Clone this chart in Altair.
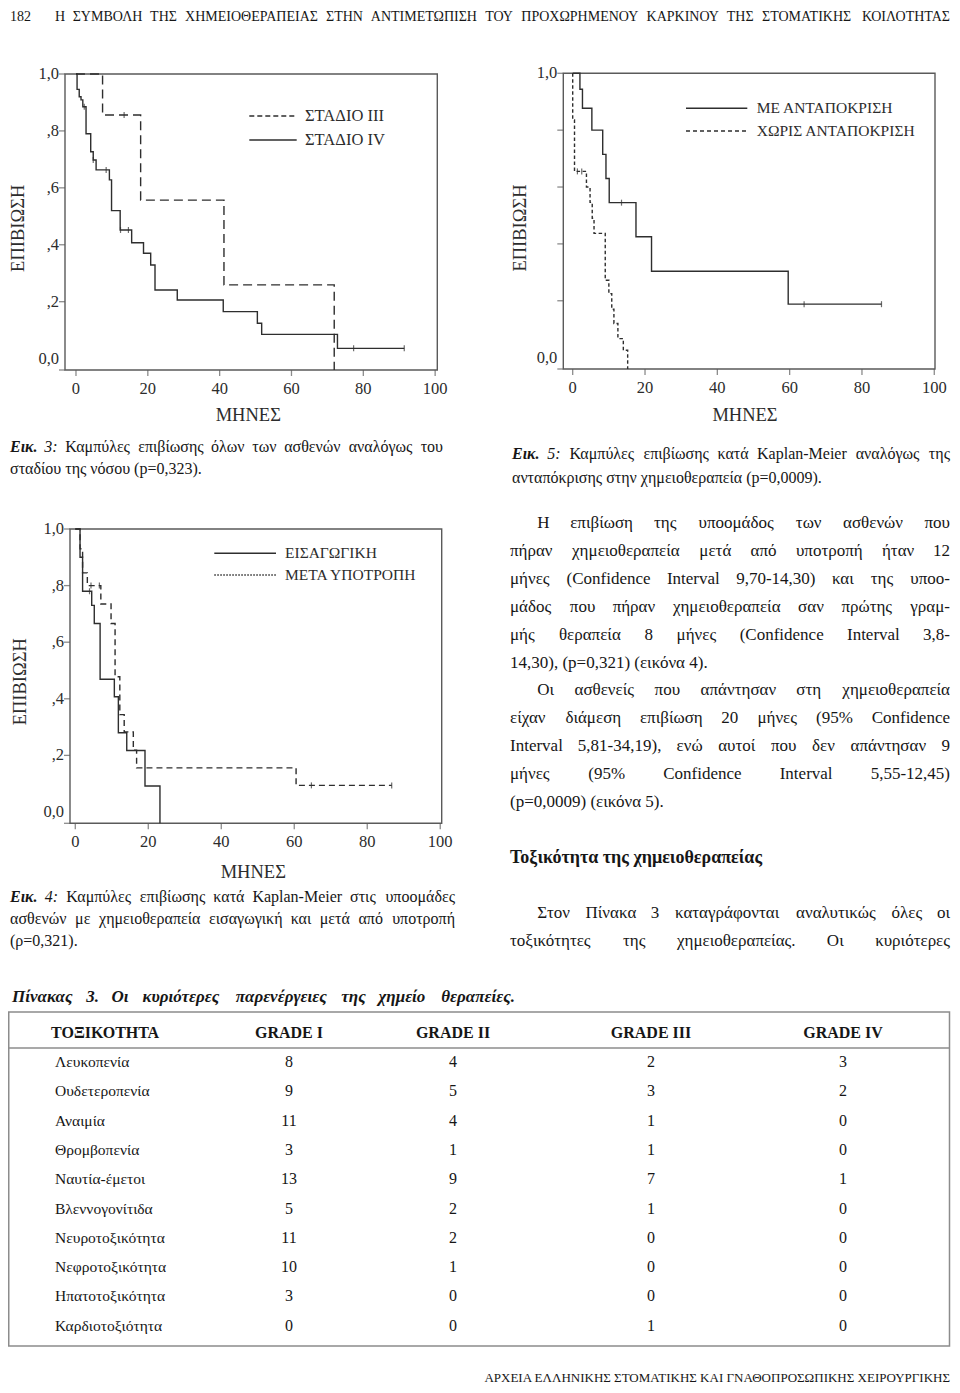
import altair as alt
import pandas as pd

FONT = "Liberation Serif"
INK = "#161616"
KM_INK = "#2c2c2c"
CURVE = "#2e2e2e"
FRAME = "#5a5a5a"
TABLE_LINE = "#8c8c8c"

# ---------------- page text ----------------
page_number = "182"
running_head = "Η ΣΥΜΒΟΛΗ ΤΗΣ ΧΗΜΕΙΟΘΕΡΑΠΕΙΑΣ ΣΤΗΝ ΑΝΤΙΜΕΤΩΠΙΣΗ ΤΟΥ ΠΡΟΧΩΡΗΜΕΝΟΥ ΚΑΡΚΙΝΟΥ ΤΗΣ ΣΤΟΜΑΤΙΚΗΣ ΚΟΙΛΟΤΗΤΑΣ"
running_foot = "ΑΡΧΕΙΑ ΕΛΛΗΝΙΚΗΣ ΣΤΟΜΑΤΙΚΗΣ ΚΑΙ ΓΝΑΘΟΠΡΟΣΩΠΙΚΗΣ ΧΕΙΡΟΥΡΓΙΚΗΣ"

fig3_caption = ["Εικ. 3: Καμπύλες επιβίωσης όλων των ασθενών αναλόγως του",
                "σταδίου της νόσου (p=0,323)."]
fig5_caption = ["Εικ. 5: Καμπύλες επιβίωσης κατά Kaplan-Meier αναλόγως της",
                "ανταπόκρισης στην χημειοθεραπεία (p=0,0009)."]
fig4_caption = ["Εικ. 4: Καμπύλες επιβίωσης κατά Kaplan-Meier στις υποομάδες",
                "ασθενών με χημειοθεραπεία εισαγωγική και μετά από υποτροπή",
                "(ρ=0,321)."]
body_lines = [
    "Η επιβίωση της υποομάδος των ασθενών που",
    "πήραν χημειοθεραπεία μετά από υποτροπή ήταν 12",
    "μήνες (Confidence Interval 9,70-14,30) και της υποο-",
    "μάδος που πήραν χημειοθεραπεία σαν πρώτης γραμ-",
    "μής θεραπεία 8 μήνες (Confidence Interval 3,8-",
    "14,30), (p=0,321) (εικόνα 4).",
    "Οι ασθενείς που απάντησαν στη χημειοθεραπεία",
    "είχαν διάμεση επιβίωση 20 μήνες (95% Confidence",
    "Interval 5,81-34,19), ενώ αυτοί που δεν απάντησαν 9",
    "μήνες (95% Confidence Interval 5,55-12,45)",
    "(p=0,0009) (εικόνα 5).",
]
section_title = "Τοξικότητα της χημειοθεραπείας"
section_lines = ["Στον Πίνακα 3 καταγράφονται αναλυτικώς όλες οι",
                 "τοξικότητες της χημειοθεραπείας. Οι κυριότερες"]
table_title = "Πίνακας 3. Οι κυριότερες παρενέργειες της χημείο θεραπείες."
table_header = ["ΤΟΞΙΚΟΤΗΤΑ", "GRADE I", "GRADE II", "GRADE III", "GRADE IV"]
toxicities = ["Λευκοπενία", "Ουδετεροπενία", "Αναιμία", "Θρομβοπενία", "Ναυτία-έμετοι",
              "Βλεννογονίτιδα", "Νευροτοξικότητα", "Νεφροτοξικότητα", "Ηπατοτοξικότητα",
              "Καρδιοτοξιότητα"]
grade_1 = [8, 9, 11, 3, 13, 5, 11, 10, 3, 0]
grade_2 = [4, 5, 4, 1, 9, 2, 2, 1, 0, 0]
grade_3 = [2, 3, 1, 1, 7, 1, 0, 0, 0, 1]
grade_4 = [3, 2, 0, 0, 1, 0, 0, 0, 0, 0]

# ---------------- Kaplan-Meier data ----------------
month_ticks = [0, 20, 40, 60, 80, 100]
surv_label_values = [1.0, 0.8, 0.6, 0.4, 0.2, 0.0]
surv_labels = ["1,0", ",8", ",6", ",4", ",2", "0,0"]
x_title = "ΜΗΝΕΣ"
y_title = "ΕΠΙΒΙΩΣΗ"

# Fig. 3
stage3_name = "ΣΤΑΔΙΟ III"
stage3_t = [0, 7.4, 18.0, 41.2, 71.9]
stage3_s = [1.0, 0.856, 0.557, 0.259, -0.04]
stage3_cens_t = [13.4]
stage3_cens_s = [0.856]
stage4_name = "ΣΤΑΔΙΟ IV"
stage4_t = [0, 0.3, 0.9, 1.4, 1.9, 2.8, 4.1, 4.8, 5.6, 9.3, 9.9, 12.3, 15.5, 18.8, 20.8,
            22.0, 28.2, 41.0, 50.5, 51.7, 72.8, 91.4]
stage4_s = [1.0, 0.946, 0.92, 0.909, 0.885, 0.79, 0.727, 0.698, 0.663, 0.628, 0.52, 0.452,
            0.407, 0.37, 0.329, 0.241, 0.206, 0.165, 0.124, 0.085, 0.036, 0.036]
stage4_cens_t = [2.3, 4.8, 8.4, 12.4, 14.6, 77.3, 91.4]
stage4_cens_s = [0.885, 0.698, 0.663, 0.452, 0.452, 0.036, 0.036]

# Fig. 5
resp_name = "ΜΕ ΑΝΤΑΠΟΚΡΙΣΗ"
resp_t = [0, 2.0, 2.7, 5.3, 8.3, 9.2, 10.1, 17.5, 21.8, 59.6, 85.4]
resp_s = [1.0, 0.944, 0.877, 0.80, 0.715, 0.63, 0.545, 0.425, 0.304, 0.188, 0.188]
resp_cens_t = [13.5, 64.0, 85.4]
resp_cens_s = [0.545, 0.188, 0.188]
nonresp_name = "ΧΩΡΙΣ ΑΝΤΑΠΟΚΡΙΣΗ"
nonresp_t = [0, 0.0, 0.5, 3.8, 4.8, 5.4, 5.9, 9.0, 10.0, 10.8, 11.4, 12.5, 14.0, 15.2]
nonresp_s = [1.0, 0.836, 0.655, 0.60, 0.546, 0.49, 0.437, 0.272, 0.225, 0.17, 0.12, 0.067,
             0.026, -0.04]
nonresp_cens_t = [1.3, 2.5]
nonresp_cens_s = [0.655, 0.655]

# Fig. 4
induct_name = "ΕΙΣΑΓΩΓΙΚΗ"
induct_t = [0, 1.3, 2.0, 4.5, 5.2, 6.8, 10.7, 11.8, 14.1, 19.1, 23.2]
induct_s = [1.0, 0.90, 0.78, 0.73, 0.666, 0.469, 0.407, 0.28, 0.217, 0.092, -0.04]
induct_cens_t = [3.9]
induct_cens_s = [0.78]
relapse_name = "ΜΕΤΑ ΥΠΟΤΡΟΠΗ"
relapse_t = [0, 1.3, 2.0, 3.3, 7.0, 9.8, 10.9, 12.2, 13.4, 15.9, 16.8, 60.5, 86.7]
relapse_s = [1.0, 0.93, 0.845, 0.80, 0.735, 0.666, 0.478, 0.344, 0.283, 0.218, 0.156,
             0.094, 0.094]
relapse_cens_t = [4.3, 6.6, 64.7, 86.7]
relapse_cens_s = [0.80, 0.80, 0.094, 0.094]

# ---------------- layout helpers ----------------
W, H = 944, 1377
YDOM = [-0.04, 1.0]

_W = {}
for ch, w in zip("abcdefghijklmnopqrstuvwxyz",
                 [.444, .5, .444, .5, .444, .333, .5, .5, .278, .278, .5, .278, .778, .5, .5, .5,
                  .5, .333, .389, .278, .5, .5, .722, .5, .5, .444]):
    _W[ch] = w
for ch, w in zip("ABCDEFGHIJKLMNOPQRSTUVWXYZ",
                 [.722, .667, .667, .722, .611, .556, .722, .722, .333, .389, .722, .611, .889,
                  .722, .722, .556, .722, .667, .556, .611, .722, .722, .944, .722, .722, .611]):
    _W[ch] = w
for ch, w in zip("ΑΒΓΔΕΖΗΘΙΚΛΜΝΞΟΠΡΣΤΥΦΧΨΩ",
                 [.722, .667, .578, .643, .611, .611, .722, .722, .333, .722, .702, .889, .722,
                  .643, .722, .722, .556, .592, .611, .722, .763, .722, .795, .768]):
    _W[ch] = w
for ch, w in zip("αβγδεζηθικλμνξοπρσςτυφχψω",
                 [.53, .5, .46, .5, .42, .43, .5, .5, .27, .5, .5, .55, .46, .43, .5, .53, .5, .52,
                  .43, .43, .5, .62, .47, .67, .67]):
    _W[ch] = w
for a, b in zip("άέήίόύώϊϋΐΰΆΈΉΊΌΎΏ", "αεηιουωιυιυΑΕΗΙΟΥΩ"):
    _W[a] = _W[b]
for ch in "0123456789":
    _W[ch] = .5
_W.update({" ": .25, ",": .25, ".": .25, ":": .278, ";": .278, "(": .333, ")": .333,
           "-": .333, "=": .564, "%": .833})


def est(text, fs, bold=False):
    return sum(_W.get(c, 0.5) for c in text) * fs * (1.06 if bold else 1.0)


rows = []


def add_text(text, x, y, fs, align="left", weight="normal", fstyle="normal", color=INK):
    rows.append(dict(text=text, px=x, py=y, align=align, size=fs, weight=weight,
                     fstyle=fstyle, color=color))


def add_line(line, y, fs, L, R, justify=True, weight="normal", fstyle="normal", special=None):
    words = [w for w in line.split(" ") if w]
    special = special or {}
    if not justify and not special:
        add_text(line, L, y, fs, "left", weight, fstyle)
        return
    sty = [special.get(i, (weight, fstyle)) for i in range(len(words))]
    widths = [est(w, fs, sty[i][0] == "bold") for i, w in enumerate(words)]
    n = len(words)
    gap = (R - L - sum(widths)) / (n - 1) if (justify and n > 1) else est(" ", fs)
    x = L
    for i, w in enumerate(words):
        if justify and n > 1 and i == n - 1:
            px, al = R, "right"
        elif i == 0:
            px, al = x, "left"
        else:
            px, al = x + widths[i] / 2, "center"
        add_text(w, px, y, fs, al, sty[i][0], sty[i][1])
        x += widths[i] + gap


# running head / foot
add_text(page_number, 2, 9, 14)
add_line(running_head, 9, 14, 47, 942)
add_text(running_foot, 942, 1370, 13, align="right")

# captions
cap_special = {0: ("bold", "italic"), 1: ("normal", "italic")}
for i, (ln, yy) in enumerate(zip(fig3_caption, [439, 461])):
    add_line(ln, yy, 16, 2, 435, justify=(i == 0), special=cap_special if i == 0 else None)
for i, (ln, yy) in enumerate(zip(fig5_caption, [446, 470])):
    add_line(ln, yy, 16, 504, 942, justify=(i == 0), special=cap_special if i == 0 else None)
for i, (ln, yy) in enumerate(zip(fig4_caption, [889, 911, 933])):
    add_line(ln, yy, 16, 2, 447, justify=(i < 2), special=cap_special if i == 0 else None)

# body paragraphs
for i, ln in enumerate(body_lines):
    L = 529.3 if i in (0, 6) else 502
    add_line(ln, 515.3 + i * 27.84, 17, L, 942, justify=(i not in (5, 10)))
add_text(section_title, 502, 850, 18, weight="bold")
add_line(section_lines[0], 905, 17, 529.3, 942)
add_line(section_lines[1], 933, 17, 502, 942)

# table title and header
add_line(table_title, 989, 17, 4, 507, weight="bold", fstyle="italic")
col_centers = [97, 281, 445, 643, 835]
for txt, cx in zip(table_header, col_centers):
    add_text(txt, cx, 1025, 16, align="center", weight="bold")

tdf = pd.DataFrame(rows)
text_layers = []
for (al, fs, wt, st, col), sub in tdf.groupby(["align", "size", "weight", "fstyle", "color"]):
    text_layers.append(
        alt.Chart(sub.reset_index(drop=True)).mark_text(
            align=al, baseline="middle", font=FONT, fontSize=float(fs), fontWeight=wt,
            fontStyle=st, color=col
        ).encode(x=alt.X("px:Q", scale=None), y=alt.Y("py:Q", scale=None), text="text:N")
    )

# ---------------- table ----------------
cells = []
for r, name in enumerate(toxicities):
    cells.append(dict(row=r, px=47, text=name, kind="name"))
    for g, vals in enumerate([grade_1, grade_2, grade_3, grade_4]):
        cells.append(dict(row=r, px=col_centers[g + 1], text=str(vals[r]), kind="value"))
cells = pd.DataFrame(cells)
row_scale = alt.Scale(domain=[0, 9], range=[1054, 1317.7], nice=False, zero=False)
table_names = alt.Chart(cells[cells.kind == "name"]).mark_text(
    align="left", baseline="middle", font=FONT, fontSize=15.5, color=INK
).encode(x=alt.X("px:Q", scale=None), y=alt.Y("row:Q", scale=row_scale, axis=None), text="text:N")
table_vals = alt.Chart(cells[cells.kind == "value"]).mark_text(
    align="center", baseline="middle", font=FONT, fontSize=16, color=INK
).encode(x=alt.X("px:Q", scale=None), y=alt.Y("row:Q", scale=row_scale, axis=None), text="text:N")
one = pd.DataFrame({"a": [0]})
table_box = alt.Chart(one).mark_rect(fillOpacity=0, stroke=TABLE_LINE, strokeWidth=1.5).encode(
    x=alt.value(0.75), x2=alt.value(941.5), y=alt.value(1004), y2=alt.value(1338))
table_sep = alt.Chart(one).mark_rule(color=TABLE_LINE, strokeWidth=1.5).encode(
    x=alt.value(0.75), x2=alt.value(941.5), y=alt.value(1040))
table = alt.layer(table_box, table_sep, table_names, table_vals)


# ---------------- Kaplan-Meier panels ----------------
def km_panel(xdom, xr, yr, series, label_idx, legend, titles):
    xs = alt.Scale(domain=xdom, range=xr, nice=False, zero=False)
    ys = alt.Scale(domain=YDOM, range=yr, nice=False, zero=False)

    def X(f):
        return alt.X(f, type="quantitative", scale=xs, axis=None)

    def Y(f):
        return alt.Y(f, type="quantitative", scale=ys, axis=None)

    layers = []
    frame = pd.DataFrame({"x0": [xdom[0]], "x1": [xdom[1]], "y0": [YDOM[0]], "y1": [YDOM[1]]})
    layers.append(alt.Chart(frame).mark_rect(fillOpacity=0, stroke=FRAME, strokeWidth=1.4)
                  .encode(x=X("x0"), x2="x1", y=Y("y0"), y2="y1"))
    yt = pd.DataFrame({"x": xdom[0], "y": [1.0, 0.8, 0.6, 0.4, 0.2, YDOM[0]]})
    layers.append(alt.Chart(yt).mark_tick(orient="horizontal", size=6, thickness=1.3, xOffset=-3,
                                          color=FRAME).encode(x=X("x"), y=Y("y")))
    xt = pd.DataFrame({"x": month_ticks, "y": YDOM[0]})
    layers.append(alt.Chart(xt).mark_tick(orient="vertical", size=6, thickness=1.3, yOffset=3,
                                          color=FRAME).encode(x=X("x"), y=Y("y")))
    yl = pd.DataFrame({"x": xdom[0], "y": [surv_label_values[i] for i in label_idx],
                       "lab": [surv_labels[i] for i in label_idx]})
    layers.append(alt.Chart(yl).mark_text(align="right", baseline="middle", dx=-6, font=FONT,
                                          fontSize=16.5, color=KM_INK)
                  .encode(x=X("x"), y=Y("y"), text="lab:N"))
    xl = pd.DataFrame({"x": month_ticks, "y": YDOM[0], "lab": [str(v) for v in month_ticks]})
    layers.append(alt.Chart(xl).mark_text(align="center", baseline="middle", dy=19, font=FONT,
                                          fontSize=16.5, color=KM_INK)
                  .encode(x=X("x"), y=Y("y"), text="lab:N"))
    for t, s, ct, cs, dash in series:
        df = pd.DataFrame({"t": t, "s": s, "i": range(len(t))})
        kw = dict(interpolate="step-after", color=CURVE, strokeWidth=1.4)
        if dash:
            kw["strokeDash"] = dash
        layers.append(alt.Chart(df).mark_line(**kw)
                      .encode(x=X("t"), y=Y("s"), order=alt.Order("i:Q")))
        cdf = pd.DataFrame({"t": ct, "s": cs})
        layers.append(alt.Chart(cdf).mark_tick(orient="vertical", size=6, thickness=1.2,
                                               color=CURVE).encode(x=X("t"), y=Y("s")))
    # legend
    (lx0, lx1, tx, fs), entries = legend
    for name, ly, dash in entries:
        kw = dict(color=CURVE, strokeWidth=1.4)
        if dash:
            kw["strokeDash"] = dash
        layers.append(alt.Chart(one).mark_rule(**kw).encode(
            x=alt.value(lx0), x2=alt.value(lx1), y=alt.value(ly)))
        layers.append(alt.Chart(pd.DataFrame({"lab": [name]})).mark_text(
            align="left", baseline="middle", font=FONT, fontSize=fs, color=KM_INK
        ).encode(x=alt.value(tx), y=alt.value(ly), text="lab:N"))
    # axis titles
    (xtx, xty), (ytx, yty) = titles
    layers.append(alt.Chart(pd.DataFrame({"lab": [x_title]})).mark_text(
        align="center", baseline="middle", font=FONT, fontSize=18.5, color=KM_INK
    ).encode(x=alt.value(xtx), y=alt.value(xty), text="lab:N"))
    layers.append(alt.Chart(pd.DataFrame({"lab": [y_title]})).mark_text(
        align="center", baseline="middle", font=FONT, fontSize=18.5, angle=270, color=KM_INK
    ).encode(x=alt.value(ytx), y=alt.value(yty), text="lab:N"))
    return alt.layer(*layers)


km3 = km_panel(
    [-3.06, 100.6], [57, 429.3], [362, 66],
    [(stage3_t, stage3_s, stage3_cens_t, stage3_cens_s, [9, 5]),
     (stage4_t, stage4_s, stage4_cens_t, stage4_cens_s, None)],
    [0, 1, 2, 3, 4, 5],
    ((241.3, 288.7, 297, 16.5), [(stage3_name, 108, [5, 3]), (stage4_name, 132, None)]),
    ((240.3, 407), (10.3, 220.3)),
)
km5 = km_panel(
    [-2.6, 100.2], [555.3, 927], [361, 65.3],
    [(resp_t, resp_s, resp_cens_t, resp_cens_s, None),
     (nonresp_t, nonresp_s, nonresp_cens_t, nonresp_cens_s, [3.5, 2.5])],
    [0, 5],
    ((678, 739.3, 748.7, 15.5), [(resp_name, 100.3, None), (nonresp_name, 123, [4, 3])]),
    ((737, 407), (512, 220)),
)
km4 = km_panel(
    [-1.45, 100.4], [62, 433.7], [815.3, 521],
    [(induct_t, induct_s, induct_cens_t, induct_cens_s, None),
     (relapse_t, relapse_s, relapse_cens_t, relapse_cens_s, [6, 4])],
    [0, 1, 2, 3, 4, 5],
    ((206.3, 268, 277, 15.5), [(induct_name, 545.3, None), (relapse_name, 567, [1.5, 1.5])]),
    ((245.3, 863.7), (12, 673.7)),
)

chart = alt.layer(km3, km5, km4, table, *text_layers).resolve_scale(
    x="independent", y="independent"
).properties(
    width=W, height=H, padding=0, autosize=alt.AutoSizeParams(type="none")
).configure_view(strokeWidth=0)

chart.save("out.html", embed_options={"renderer": "svg", "actions": False})
